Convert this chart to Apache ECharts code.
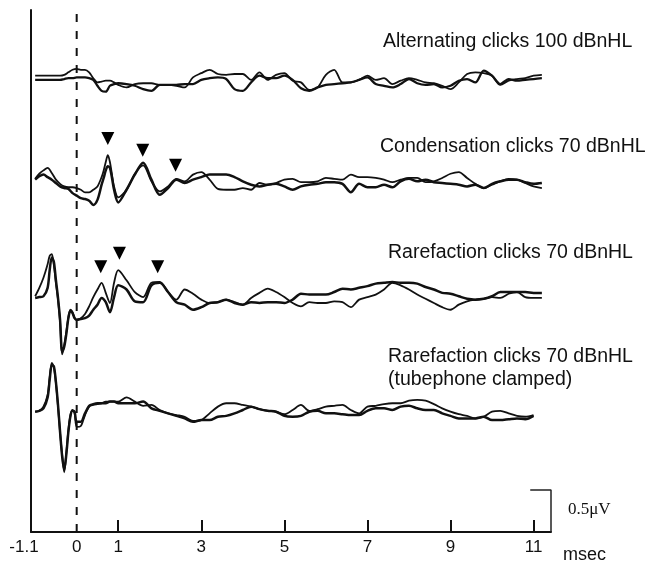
<!DOCTYPE html>
<html><head><meta charset="utf-8">
<script src="https://cdn.jsdelivr.net/npm/echarts@6/dist/echarts.min.js"></script>
<style>html,body{margin:0;padding:0;background:#fff}#c{width:648px;height:566px}</style>
</head><body><div id="c"></div>
<script>
// ---- axis ticks (msec) ----
const tickLabels = [-1.1, 0, 1, 3, 5, 7, 9, 11];
const tickMarks = [1, 3, 5, 7, 9, 11];

// ---- time samples (msec) ----
const timeLate = [1.2,1.4,1.6,1.8,2.0,2.2,2.4,2.6,2.8,3.0,3.2,3.4,3.6,3.8,4.0,4.2,4.4,4.6,4.8,5.0,5.2,5.4,5.6,5.8,6.0,6.2,6.4,6.6,6.8,7.0,7.2,7.4,7.6,7.8,8.0,8.2,8.4,8.6,8.8,9.0,9.2,9.4,9.6,9.8,10.0,10.2,10.4,10.6,10.8,11.0,11.2];
const timeEarly1 = [-1.0,-0.9,-0.8,-0.7,-0.6,-0.5,-0.4,-0.3,-0.2,-0.1,0,0.1,0.2,0.3,0.4,0.5,0.6,0.7,0.8,0.9,1.0];
const timeEarly2 = [-1.0,-0.9,-0.8,-0.7,-0.6,-0.5,-0.4,-0.3,-0.2,-0.1,0,0.1,0.2,0.3,0.4,0.5,0.6,0.65,0.7,0.75,0.8,0.85,0.9,1.0];
const timeEarly3 = [-1.0,-0.9,-0.8,-0.7,-0.65,-0.6,-0.55,-0.5,-0.45,-0.4,-0.35,-0.3,-0.25,-0.2,-0.15,-0.1,-0.05,0,0.1,0.2,0.3,0.4,0.5,0.6,0.7,0.8,0.9,1.0];
const timeLate4 = [1.2,1.4,1.6,1.8,2.0,2.2,2.4,2.6,2.8,3.0,3.2,3.4,3.6,3.8,4.0,4.2,4.4,4.6,4.8,5.0,5.2,5.4,5.6,5.8,6.0,6.2,6.4,6.6,6.8,7.0,7.2,7.4,7.6,7.8,8.0,8.2,8.4,8.6,8.8,9.0,9.2,9.4,9.6,9.8,10.0,10.2,10.4,10.6,10.8,11.0];

// ---- waveforms (microvolts, relative to each trace's own baseline) ----
// Alternating clicks 100 dBnHL
const alt100A = [0.04,0.04,0.04,0.04,0.04,0.04,0.04,0.05,0.08,0.11,0.12,0.11,0.11,0.08,0.01,-0.04,-0.03,-0.02,-0.02,-0.04,-0.07,
  -0.10,-0.06,-0.05,-0.05,-0.07,-0.07,-0.08,-0.10,0.02,0.07,0.11,0.06,0.05,0.06,0.06,-0.01,0.08,-0.01,0.05,0.07,-0.02,-0.04,-0.13,-0.10,0.05,0.11,-0.04,-0.04,-0.01,0.04,-0.01,0.01,-0.06,-0.02,0.01,-0.01,-0.04,-0.05,-0.08,-0.12,-0.04,0.06,0.08,0.07,0.04,-0.07,-0.02,0,0.01,0.04,0.05];
const alt100B = [-0.01,-0.01,-0.01,-0.01,-0.01,-0.01,-0.01,0,0.01,0.01,0.02,0.02,0.02,0.01,-0.01,-0.08,-0.14,-0.15,-0.08,-0.06,-0.05,
  -0.06,-0.08,-0.12,-0.14,-0.07,-0.07,-0.07,-0.06,-0.06,-0.01,0.01,0.02,0,-0.12,-0.14,-0.04,0.04,0.01,0.01,0.04,-0.01,-0.11,-0.14,-0.10,-0.07,-0.06,-0.05,-0.04,-0.01,0.02,-0.06,-0.08,-0.10,-0.06,0,-0.05,-0.07,-0.06,-0.10,-0.08,-0.02,0,-0.04,0.10,0.04,-0.06,0,-0.02,-0.01,0,0.01];
// Condensation clicks 70 dBnHL
const cond70A = [0.05,0.11,0.15,0.18,0.12,0.04,-0.01,-0.04,-0.05,-0.05,-0.06,-0.08,-0.11,-0.11,-0.08,-0.04,0.07,0.15,0.25,0.33,0.25,0.10,-0.04,-0.17,
  -0.08,0.11,0.21,0.02,-0.10,-0.04,0.05,0.02,0.10,0.13,0.04,-0.07,-0.08,-0.08,-0.06,-0.08,0,-0.02,0,0.04,0.05,0.01,0.01,0.02,0.06,0.05,0.04,0.10,0.07,0.07,0.06,0.04,0.01,0.04,0.06,0.06,0.01,0.02,0.06,0.11,0.13,0.06,-0.01,-0.06,-0.02,0.02,0.05,0.04,0,-0.04,-0.06];
const cond70B = [0.04,0.08,0.10,0.07,0.04,0,-0.04,-0.06,-0.07,-0.12,-0.15,-0.18,-0.19,-0.21,-0.26,-0.20,-0.02,0.06,0.15,0.20,0.18,0.06,-0.08,-0.23,
  -0.08,0.10,0.24,0.04,-0.14,-0.06,0.04,0,0.04,0.07,0.10,0.10,0.10,0.07,0.02,-0.02,-0.04,-0.02,-0.01,-0.04,-0.08,-0.04,-0.02,-0.01,0.01,0.01,-0.01,-0.11,-0.01,-0.05,-0.05,-0.02,-0.05,0.02,0.05,0.02,0.04,0.01,0,-0.01,-0.02,-0.04,-0.02,-0.06,-0.01,0.02,0.04,0.04,0.01,-0.01,0];
// Rarefaction clicks 70 dBnHL
const rare70A = [0.02,0.12,0.24,0.40,0.50,0.52,0.39,0.18,-0.02,-0.29,-0.67,-0.56,-0.40,-0.23,-0.14,-0.17,-0.24,-0.26,-0.24,-0.19,-0.10,0.01,0.10,0.18,0.06,-0.06,0.18,0.33,
  0.21,0.07,0.01,0.18,0.19,0.07,-0.02,0.10,0.05,-0.02,-0.06,-0.05,-0.02,-0.05,-0.08,0,0.06,0.11,0.07,0.01,-0.06,-0.10,-0.05,-0.06,-0.06,-0.04,-0.05,-0.11,-0.02,0.01,0.04,0.10,0.18,0.15,0.10,0.04,-0.01,-0.06,-0.11,-0.14,-0.08,-0.04,-0.02,-0.01,0.01,0,0.05,0.07,0.01,0,0];
const rare70B = [0,0.01,0.02,0.12,0.33,0.48,0.43,0.21,0,-0.26,-0.64,-0.58,-0.43,-0.24,-0.15,-0.18,-0.24,-0.26,-0.25,-0.24,-0.21,-0.14,-0.08,0,-0.05,-0.17,0.01,0.15,
  0.10,-0.04,-0.05,0.15,0.18,0.07,-0.05,-0.08,-0.14,-0.11,-0.06,-0.05,-0.02,-0.06,-0.08,-0.05,-0.06,-0.05,-0.05,-0.06,-0.02,0.05,0.04,0.04,0.04,0.07,0.11,0.10,0.12,0.14,0.17,0.18,0.19,0.18,0.18,0.17,0.13,0.10,0.06,0.05,0.02,-0.01,-0.02,-0.01,0.02,0.07,0.07,0.07,0.07,0.06,0.06];
// Rarefaction clicks 70 dBnHL (tubephone clamped)
const clampA = [-0.02,-0.01,0.04,0.18,0.39,0.56,0.51,0.32,0.04,-0.27,-0.53,-0.74,-0.51,-0.24,-0.06,0,-0.04,-0.20,-0.19,-0.06,0.04,0.06,0.07,0.08,0.10,0.10,0.10,0.10,
  0.15,0.10,0.05,0.06,0,-0.04,-0.06,-0.08,-0.13,-0.12,-0.04,0.04,0.08,0.08,0.06,0.04,0.01,-0.01,-0.02,-0.05,0,0.06,-0.01,0.01,0.04,0.05,0.06,0,-0.04,0.04,0.05,0.07,0.08,0.08,0.11,0.12,0.11,0.07,0.02,-0.02,-0.05,-0.07,-0.10,-0.08,-0.02,-0.01,-0.04,-0.07,-0.08,-0.06];
const clampB = [-0.02,-0.01,0.02,0.15,0.36,0.53,0.52,0.33,0.06,-0.26,-0.55,-0.71,-0.53,-0.26,-0.07,-0.01,-0.02,-0.14,-0.14,-0.04,0.05,0.07,0.08,0.08,0.08,0.10,0.10,0.08,
  0.08,0.08,0.10,0.02,-0.01,-0.04,-0.07,-0.10,-0.14,-0.12,-0.12,-0.08,-0.07,-0.04,0,0.04,0.01,-0.01,-0.02,-0.07,-0.08,-0.07,-0.02,-0.01,-0.04,-0.04,-0.05,-0.06,-0.06,-0.01,0.02,0.02,0,0.04,0.05,0.02,0,0,-0.04,-0.07,-0.10,-0.10,-0.10,-0.08,-0.12,-0.12,-0.11,-0.10,-0.11,-0.07];

// ---- peak markers [msec, microvolts above baseline] ----
const peaksCond = [[0.75, 0.53], [1.59, 0.39], [2.38, 0.21]];
const peaksRare = [[0.58, 0.37], [1.03, 0.53], [1.95, 0.37]];

// ---- calibration bar ----
const scaleBarX = [10.92, 11.42];
const scaleBarAmp = 0.5;

const traceLabels = ['Alternating clicks 100 dBnHL', 'Condensation clicks 70 dBnHL', 'Rarefaction clicks 70 dBnHL', 'Rarefaction clicks 70 dBnHL', '(tubephone clamped)'];

// layout: vertical baselines of the stacked traces (microvolts on the page)
const base = [5.38, 4.145, 2.78, 1.449];
const yTop = 6.2;

const t1 = timeEarly1.concat(timeLate);
const t2 = timeEarly2.concat(timeLate);
const t3 = timeEarly3.concat(timeLate);
const t4 = timeEarly3.concat(timeLate4);

const INK = '#111';
function trace(t, v, b, w) {
  return { type: 'line', data: t.map((x, i) => [x, b + v[i]]), showSymbol: false, smooth: 0.3,
    lineStyle: { color: INK, width: w }, silent: true, z: 3 };
}
function markers(p, b) {
  return { type: 'scatter', data: p.map(d => [d[0], b + d[1]]), symbol: 'triangle', symbolRotate: 180,
    symbolSize: [13, 13], itemStyle: { color: '#000', opacity: 1 }, silent: true, z: 4 };
}

const series = [
  trace(t1, alt100A, base[0], 1.8), trace(t1, alt100B, base[0], 2.3),
  trace(t2, cond70A, base[1], 1.8), trace(t2, cond70B, base[1], 2.5),
  trace(t3, rare70A, base[2], 1.8), trace(t3, rare70B, base[2], 2.5),
  trace(t4, clampA, base[3], 1.8), trace(t4, clampB, base[3], 2.5),
  markers(peaksCond, base[1]), markers(peaksRare, base[2]),
  { type: 'line', data: [[scaleBarX[0], scaleBarAmp], [scaleBarX[1], scaleBarAmp], [scaleBarX[1], 0]],
    showSymbol: false, lineStyle: { color: '#222', width: 1.5 }, silent: true },
  { type: 'line', data: [[0, 0], [0, yTop]], showSymbol: false, silent: true, z: 2,
    lineStyle: { color: INK, width: 2, type: [8, 9] } }
];

const font = '"Liberation Sans", Arial, Helvetica, sans-serif';
const chart = echarts.init(document.getElementById('c'));
chart.setOption({
  animation: false,
  backgroundColor: '#fff',
  grid: { left: 31, right: 97, top: 10, bottom: 34 },
  xAxis: {
    type: 'value', min: -1.1, max: 11.42,
    axisLine: { show: true, onZero: false, lineStyle: { color: INK, width: 2 } },
    axisTick: { show: true, inside: true, length: 12, customValues: tickMarks, lineStyle: { color: INK, width: 2 } },
    axisLabel: { customValues: tickLabels, color: INK, fontSize: 17, fontFamily: font, margin: 7,
      formatter: v => (v < 0 ? '{m|' + v + '}' : String(v)),
      rich: { m: { fontSize: 17, fontFamily: font, color: INK, padding: [0, 14, 0, 0] } } },
    splitLine: { show: false }
  },
  yAxis: {
    type: 'value', min: 0, max: yTop,
    axisLine: { show: true, onZero: false, lineStyle: { color: INK, width: 2 } },
    axisTick: { show: false }, axisLabel: { show: false }, splitLine: { show: false }
  },
  graphic: [
    { type: 'text', x: 383, y: 42, style: { text: traceLabels[0], font: '19.5px ' + font, fill: INK, textVerticalAlign: 'middle' } },
    { type: 'text', x: 380, y: 147, style: { text: traceLabels[1], font: '19.5px ' + font, fill: INK, textVerticalAlign: 'middle' } },
    { type: 'text', x: 388, y: 253, style: { text: traceLabels[2], font: '19.5px ' + font, fill: INK, textVerticalAlign: 'middle' } },
    { type: 'text', x: 388, y: 357, style: { text: traceLabels[3], font: '19.5px ' + font, fill: INK, textVerticalAlign: 'middle' } },
    { type: 'text', x: 388, y: 380, style: { text: traceLabels[4], font: '19.5px ' + font, fill: INK, textVerticalAlign: 'middle' } },
    { type: 'text', x: 568, y: 510, style: { text: '0.5\u03bcV', font: '17px "Liberation Serif", "Times New Roman", serif', fill: INK, textVerticalAlign: 'middle' } },
    { type: 'text', x: 563, y: 555, style: { text: 'msec', font: '18px ' + font, fill: INK, textVerticalAlign: 'middle' } }
  ],
  series: series
});
</script></body></html>
